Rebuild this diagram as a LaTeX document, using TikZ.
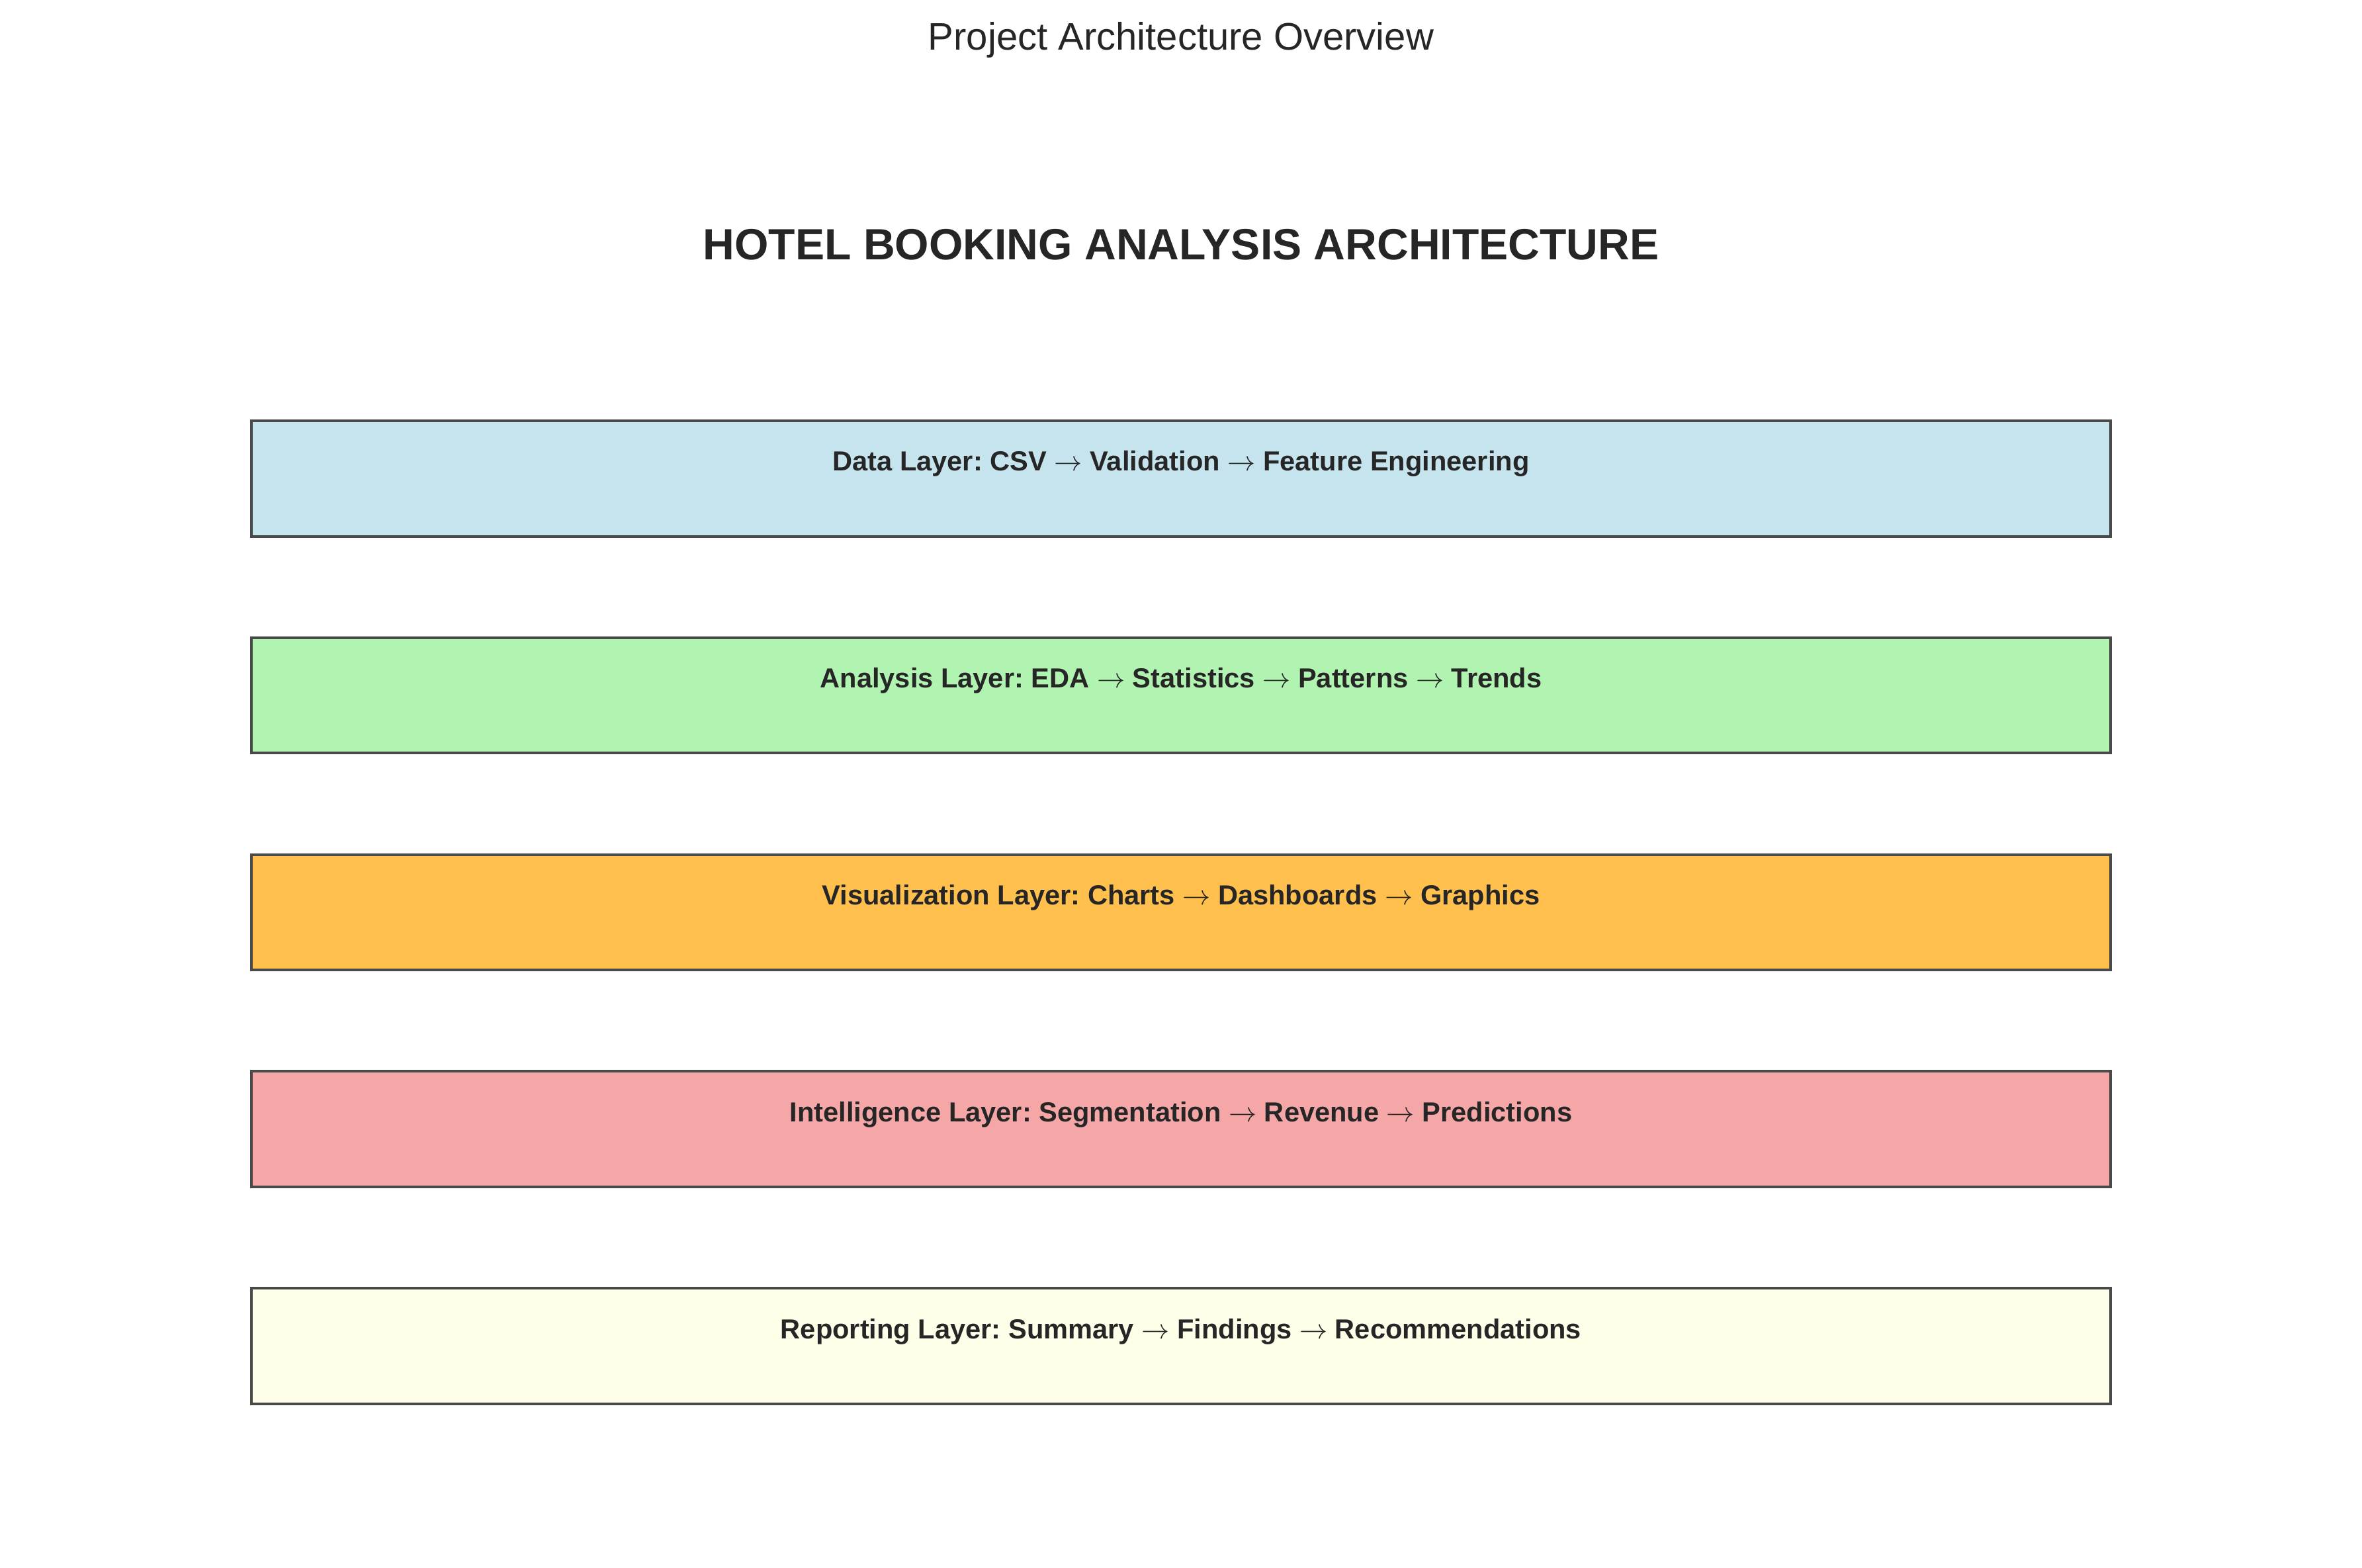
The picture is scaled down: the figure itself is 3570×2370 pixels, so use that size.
\documentclass[tikz,border=0pt]{standalone}
\usepackage{fontspec}
\setmainfont{Liberation Sans}
\frenchspacing
\newcommand{\myarr}{$\rightarrow$}
\definecolor{txt}{HTML}{262626}
\definecolor{edge}{HTML}{4A4A4A}
\definecolor{cdata}{RGB}{198,228,238}
\definecolor{cana}{RGB}{177,243,177}
\definecolor{cvis}{RGB}{255,192,77}
\definecolor{cint}{RGB}{245,166,166}
\definecolor{crep}{RGB}{255,255,233}
\tikzset{
  layerbox/.style={draw=edge, line width=1.14pt, rectangle, minimum width=28.08cm, minimum height=1.745cm, inner sep=0pt},
  layertext/.style={anchor=base, text=txt, font=\fontsize{11.83}{14}\selectfont\bfseries, inner sep=0pt},
}
\begin{document}
\begin{tikzpicture}[x=0.01cm,y=-0.01cm]
\useasboundingbox[fill=white] (0,0) rectangle (3570,2370);
\node[anchor=base, text=txt, font=\fontsize{16.5}{19}\selectfont, inner sep=0pt] (top) at (1785,76) {Project Architecture Overview};
\node[anchor=base, text=txt, font=\fontsize{18.8}{22}\selectfont\bfseries, inner sep=0pt] (title) at (1785,393) {HOTEL BOOKING ANALYSIS ARCHITECTURE};
\node[layerbox, fill=cdata] (b1) at (1785,723.2) {};
\node[layerbox, fill=cana]  (b2) at (1785,1051.0) {};
\node[layerbox, fill=cvis]  (b3) at (1785,1378.8) {};
\node[layerbox, fill=cint]  (b4) at (1785,1706.6) {};
\node[layerbox, fill=crep]  (b5) at (1785,2034.4) {};
\node[layertext] (l1) at ([yshift=-0.78cm]b1.north) {Data Layer: CSV \myarr{} Validation \myarr{} Feature Engineering};
\node[layertext] (l2) at ([yshift=-0.78cm]b2.north) {Analysis Layer: EDA \myarr{} Statistics \myarr{} Patterns \myarr{} Trends};
\node[layertext] (l3) at ([yshift=-0.78cm]b3.north) {Visualization Layer: Charts \myarr{} Dashboards \myarr{} Graphics};
\node[layertext] (l4) at ([yshift=-0.78cm]b4.north) {Intelligence Layer: Segmentation \myarr{} Revenue \myarr{} Predictions};
\node[layertext] (l5) at ([yshift=-0.78cm]b5.north) {Reporting Layer: Summary \myarr{} Findings \myarr{} Recommendations};
\end{tikzpicture}
\end{document}
